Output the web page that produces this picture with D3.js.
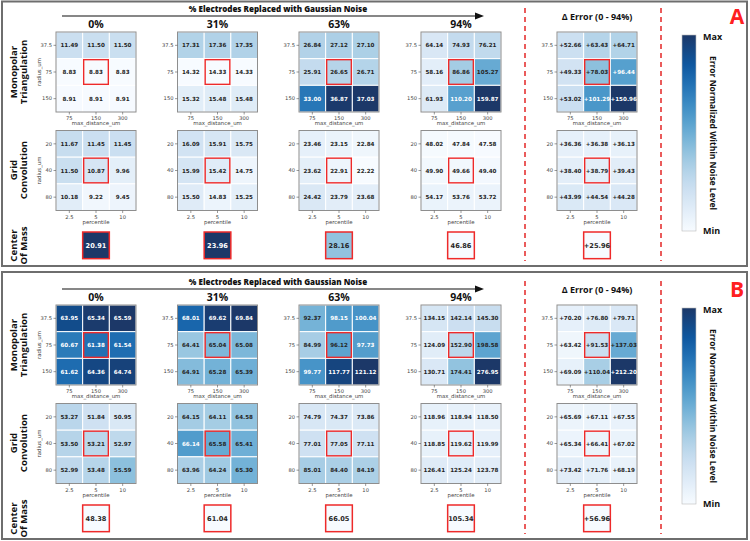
<!DOCTYPE html>
<html><head><meta charset="utf-8">
<script src="https://cdn.jsdelivr.net/npm/d3@7"></script>
<style>body{margin:0;background:#fff} svg{display:block;font-family:"DejaVu Sans",sans-serif}</style>
</head><body>
<svg id="c" width="750" height="541"></svg>
<script>
// ---------- data ----------
const noiseLevels = ["0%", "31%", "63%", "94%"];
const deltaTitle = "\u0394 Error (0 - 94%)";
const mainTitle = "% Electrodes Replaced with Gaussian Noise";
const panelLetters = ["A", "B"];
const mtRows = ["37.5", "75", "150"];
const mtCols = ["75", "150", "300"];
const gcRows = ["20", "40", "80"];
const gcCols = ["2.5", "5", "10"];

// Panel A  (row-major: radius rows x column param)
const monoA = [
  [11.49, 11.50, 11.50, 8.83, 8.83, 8.83, 8.91, 8.91, 8.91],
  [17.31, 17.36, 17.35, 14.32, 14.33, 14.33, 15.32, 15.48, 15.48],
  [26.84, 27.12, 27.10, 25.91, 26.65, 26.71, 33.00, 36.87, 37.03],
  [64.14, 74.93, 76.21, 58.16, 86.86, 105.27, 61.93, 110.20, 159.87]
];
const gridA = [
  [11.67, 11.45, 11.45, 11.50, 10.87, 9.96, 10.18, 9.22, 9.45],
  [16.09, 15.91, 15.75, 15.99, 15.42, 14.75, 15.50, 14.83, 15.25],
  [23.46, 23.15, 22.84, 23.62, 22.91, 22.22, 24.42, 23.79, 23.68],
  [48.02, 47.84, 47.58, 49.90, 49.66, 49.40, 54.17, 53.76, 53.72]
];
const comA = [20.91, 23.96, 28.16, 46.86];
const deltaMonoA = [52.66, 63.43, 64.71, 49.33, 78.03, 96.44, 53.02, 101.29, 150.96];
const deltaGridA = [36.36, 36.38, 36.13, 38.40, 38.79, 39.43, 43.99, 44.54, 44.28];
const deltaComA = 25.96;

// Panel B
const monoB = [
  [63.95, 65.34, 65.59, 60.67, 61.38, 61.54, 61.62, 64.36, 64.74],
  [68.01, 69.62, 69.84, 64.41, 65.04, 65.08, 64.91, 65.28, 65.39],
  [92.37, 98.15, 100.04, 84.99, 96.12, 97.73, 99.77, 117.77, 121.12],
  [134.15, 142.14, 145.30, 124.09, 152.90, 198.58, 130.71, 174.41, 276.95]
];
const gridB = [
  [53.27, 51.84, 50.95, 53.50, 53.21, 52.97, 52.99, 53.48, 55.59],
  [64.15, 64.11, 64.58, 66.14, 65.58, 65.41, 63.96, 64.24, 65.30],
  [74.79, 74.37, 73.86, 77.01, 77.05, 77.11, 85.01, 84.40, 84.19],
  [118.96, 118.94, 118.50, 118.85, 119.62, 119.99, 126.41, 125.24, 123.78]
];
const comB = [48.38, 61.04, 66.05, 105.34];
const deltaMonoB = [70.20, 76.80, 79.71, 63.42, 91.53, 137.03, 69.09, 110.04, 212.20];
const deltaGridB = [65.69, 67.11, 67.55, 65.34, 66.41, 67.02, 73.42, 71.76, 68.19];
const deltaComB = 56.96;

// ---------- layout ----------
const svg = d3.select("#c");
const RED = "#ee2a2a";
const HS = 80;                     // heatmap size
const colX = [56, 177.5, 299, 421, 557];
const panelTop = [0, 273];
const panelBox = [[2, 1.5, 745, 264.5], [2, 272, 745, 267]];
const titleFont = "'Open Sans', 'Lato', sans-serif";

// Blues colormap, with slightly softer navy top as in the reference
const cmap = t => t <= 0.86 ? d3.interpolateBlues(t)
  : d3.interpolateRgb(d3.interpolateBlues(0.86), "#1c3868")((t - 0.86) / 0.14);

function textColor(t) { return t > 0.555 ? "#ffffff" : "#262626"; }

function drawHeatmap(g, x0, y0, rows, cols, values, norm, fmt, opts) {
  const x = d3.scaleBand().domain(cols).range([x0, x0 + HS]);
  const y = d3.scaleBand().domain(rows).range([y0, y0 + HS]);
  const cells = [];
  rows.forEach((r, i) => cols.forEach((c, j) => cells.push({r, c, v: values[i * 3 + j], k: i * 3 + j})));
  const cg = g.append("g");
  cg.selectAll("rect").data(cells).join("rect")
    .attr("x", d => x(d.c)).attr("y", d => y(d.r))
    .attr("width", x.bandwidth()).attr("height", y.bandwidth())
    .attr("fill", d => cmap(norm(d.v)))
    .attr("stroke", "#fff").attr("stroke-width", 1);
  g.append("rect").attr("x", x0).attr("y", y0).attr("width", HS).attr("height", HS)
    .attr("fill", "none").attr("stroke", "#8e8e8e").attr("stroke-width", 1);
  const hc = cells[4];
  g.append("rect").attr("x", x(hc.c) + 1).attr("y", y(hc.r) + 1)
    .attr("width", x.bandwidth() - 2).attr("height", y.bandwidth() - 2)
    .attr("fill", "none").attr("stroke", RED).attr("stroke-width", 1.4);
  g.append("g").selectAll("text").data(cells).join("text")
    .attr("x", d => x(d.c) + x.bandwidth() / 2).attr("y", d => y(d.r) + y.bandwidth() / 2 + 2)
    .attr("text-anchor", "middle").attr("font-size", 5.6).attr("font-weight", "bold")
    .attr("fill", d => textColor(norm(d.v))).text(d => fmt(d.v));
  const ya = g.append("g").attr("transform", `translate(${x0},0)`)
    .call(d3.axisLeft(y).tickSize(2.5).tickPadding(1.5));
  const xa = g.append("g").attr("transform", `translate(0,${y0 + HS})`)
    .call(d3.axisBottom(x).tickSize(2.5).tickPadding(2));
  [ya, xa].forEach(a => {
    a.select(".domain").remove();
    a.selectAll("line").attr("stroke", "#555").attr("stroke-width", 0.6);
    a.selectAll("text").attr("font-size", 5.2).attr("fill", "#444").attr("font-family", "'DejaVu Sans', sans-serif");
  });
  g.append("text").attr("x", x0 + HS / 2).attr("y", y0 + HS + 13)
    .attr("text-anchor", "middle").attr("font-size", 5.4).attr("fill", "#444").text(opts.xLabel);
  if (opts.yLabel) {
    g.append("text").attr("transform", `translate(${x0 - 15},${y0 + HS / 2}) rotate(-90)`)
      .attr("text-anchor", "middle").attr("font-size", 5.4).attr("fill", "#444").text(opts.yLabel);
  }
}

function drawCom(g, cx, y0, v, norm, fmt) {
  const s = HS / 3;
  g.append("rect").attr("x", cx - s / 2).attr("y", y0).attr("width", s).attr("height", s)
    .attr("fill", cmap(norm(v))).attr("stroke", RED).attr("stroke-width", 1.5);
  g.append("text").attr("x", cx).attr("y", y0 + s / 2 + 2.5).attr("text-anchor", "middle")
    .attr("font-size", 6.6).attr("font-weight", "bold").attr("fill", textColor(norm(v))).text(fmt(v));
}

function drawPanel(p) {
  const top = panelTop[p];
  const g = svg.append("g").attr("transform", `translate(0,${top})`);
  const mono = p === 0 ? monoA : monoB;
  const grid = p === 0 ? gridA : gridB;
  const com = p === 0 ? comA : comB;
  const dMono = p === 0 ? deltaMonoA : deltaMonoB;
  const dGrid = p === 0 ? deltaGridA : deltaGridB;
  const dCom = p === 0 ? deltaComA : deltaComB;

  svg.append("rect").attr("x", panelBox[p][0]).attr("y", panelBox[p][1])
    .attr("width", panelBox[p][2]).attr("height", panelBox[p][3])
    .attr("fill", "none").attr("stroke", "#6e6e6e").attr("stroke-width", 2);

  g.append("text").attr("x", 278).attr("y", 11.5).attr("text-anchor", "middle")
    .attr("font-family", titleFont).attr("font-weight", 800).attr("font-size", 8).attr("fill", "#111")
    .text(mainTitle);
  g.append("line").attr("x1", 62).attr("x2", 477).attr("y1", 16).attr("y2", 16)
    .attr("stroke", "#111").attr("stroke-width", 1.2);
  g.append("path").attr("d", "M475,12.5 L484,16 L475,19.5 Z").attr("fill", "#111");

  const rowLabels = [["Monopolar", "Triangulation", 72], ["Grid", "Convolution", 170], ["Center", "Of Mass", 245.5]];
  rowLabels.forEach(([l1, l2, cy]) => {
    [[l1, 17], [l2, 27]].forEach(([t, bx]) => {
      g.append("text").attr("transform", `translate(${bx},${cy}) rotate(-90)`)
        .attr("text-anchor", "middle").attr("font-family", titleFont).attr("font-weight", "bold")
        .attr("font-size", 9.6).attr("fill", "#111").text(t);
    });
  });

  const f2 = v => v.toFixed(2);
  const fd = v => "+" + v.toFixed(2);

  noiseLevels.forEach((lvl, k) => {
    const all = mono[k].concat(grid[k], [com[k]]);
    const norm = d3.scaleLinear().domain(d3.extent(all)).range([0, 1]).clamp(true);
    const x0 = colX[k];
    g.append("text").attr("x", x0 + HS / 2).attr("y", 28).attr("text-anchor", "middle")
      .attr("font-family", titleFont).attr("font-weight", "bold").attr("font-size", 10.5).attr("fill", "#111")
      .text(lvl);
    drawHeatmap(g, x0, 32, mtRows, mtCols, mono[k], norm, f2,
      {xLabel: "max_distance_um", yLabel: k === 0 ? "radius_um" : null});
    drawHeatmap(g, x0, 130.5, gcRows, gcCols, grid[k], norm, f2,
      {xLabel: "percentile", yLabel: k === 0 ? "radius_um" : null});
    drawCom(g, x0 + HS / 2, 232, com[k], norm, f2);
  });

  {
    const all = dMono.concat(dGrid, [dCom]);
    const norm = d3.scaleLinear().domain(d3.extent(all)).range([0, 1]).clamp(true);
    const x0 = colX[4];
    g.append("text").attr("x", x0 + HS / 2).attr("y", 20).attr("text-anchor", "middle")
      .attr("font-family", titleFont).attr("font-weight", "bold").attr("font-size", 9).attr("fill", "#111")
      .text(deltaTitle);
    drawHeatmap(g, x0, 32, mtRows, mtCols, dMono, norm, fd, {xLabel: "max_distance_um"});
    drawHeatmap(g, x0, 130.5, gcRows, gcCols, dGrid, norm, fd, {xLabel: "percentile"});
    drawCom(g, x0 + HS / 2, 232, dCom, norm, fd);
  }

  [525, 661].forEach(xv => {
    g.append("line").attr("x1", xv).attr("x2", xv).attr("y1", 8).attr("y2", 261)
      .attr("stroke", "#e32626").attr("stroke-width", 1.5).attr("stroke-dasharray", "5,4");
  });

  g.append("text").attr("x", 737).attr("y", 24).attr("text-anchor", "middle")
    .attr("font-family", titleFont).attr("font-weight", "bold").attr("font-size", 21).attr("fill", "#ff2020")
    .text(panelLetters[p]);

  const gid = "cbg" + p;
  const grad = svg.append("defs").append("linearGradient").attr("id", gid)
    .attr("x1", 0).attr("x2", 0).attr("y1", 1).attr("y2", 0);
  d3.range(0, 1.0001, 0.05).forEach(t => grad.append("stop").attr("offset", t).attr("stop-color", cmap(t)));
  const cbScale = d3.scaleLinear().domain([0, 1]).range([231, 35]);
  g.append("rect").attr("x", 682).attr("y", cbScale(1)).attr("width", 14).attr("height", cbScale(0) - cbScale(1))
    .attr("fill", `url(#${gid})`).attr("stroke", "#bbb").attr("stroke-width", 0.6);
  g.append("text").attr("x", 703).attr("y", cbScale(1) + 5).attr("font-family", titleFont)
    .attr("font-weight", "bold").attr("font-size", 9).attr("fill", "#111").text("Max");
  g.append("text").attr("x", 703).attr("y", cbScale(0) + 3).attr("font-family", titleFont)
    .attr("font-weight", "bold").attr("font-size", 9).attr("fill", "#111").text("Min");
  g.append("text").attr("transform", `translate(710,133) rotate(90)`).attr("text-anchor", "middle")
    .attr("font-family", titleFont).attr("font-weight", "bold").attr("font-size", 8.5).attr("fill", "#111")
    .text("Error Normalized Within Noise Level");
}

drawPanel(0);
drawPanel(1);
</script>
</body></html>
